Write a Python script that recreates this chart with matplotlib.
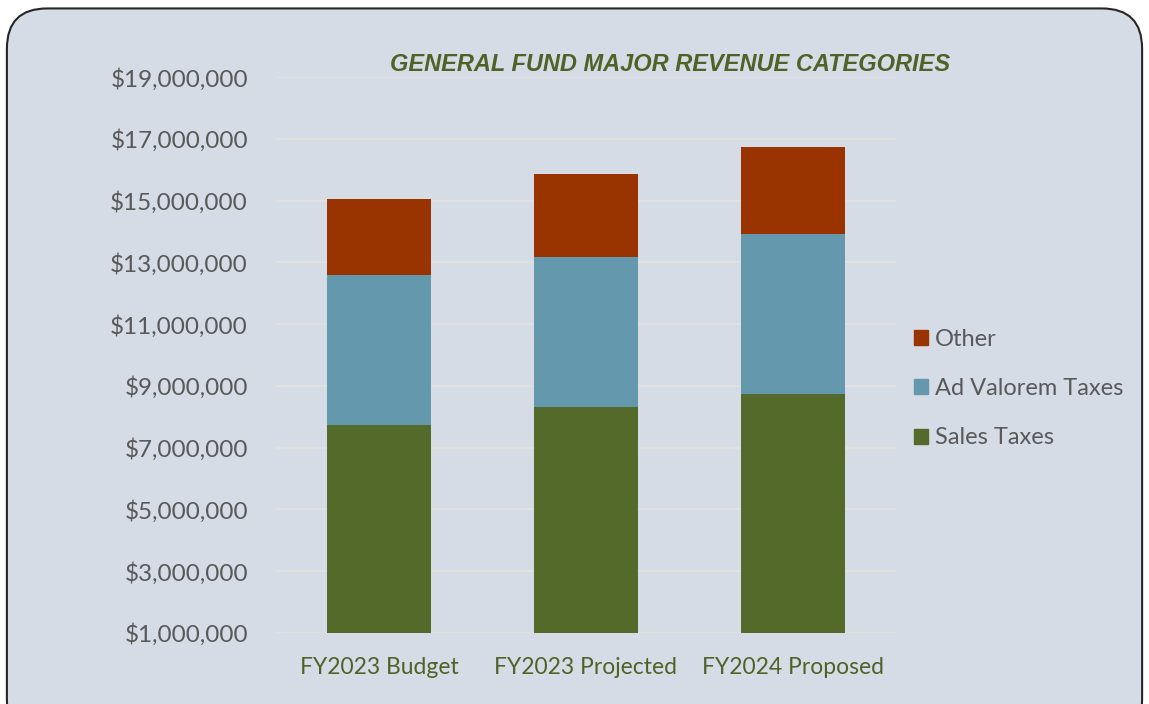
import matplotlib.pyplot as plt
from matplotlib.patches import FancyBboxPatch, Patch
from matplotlib.ticker import FuncFormatter

# data
categories = ['FY2023 Budget', 'FY2023 Projected', 'FY2024 Proposed']
sales_taxes = [7730000, 8320000, 8730000]
ad_valorem = [4850000, 4860000, 5200000]
other = [2480000, 2690000, 2790000]
yticks = list(range(1000000, 19000001, 2000000))

green = '#536A2B'
blue = '#6499AD'
red = '#993300'
bg = '#D6DCE5'
label_grey = '#595959'
title_green = '#4F6228'

fig = plt.figure(figsize=(11.49, 7.04), dpi=100)
fig.patch.set_facecolor('white')

# rounded chart frame
frame = FancyBboxPatch((0.006, -0.05), 0.988, 1.038,
                       boxstyle='round,pad=0,rounding_size=0.035',
                       transform=fig.transFigure, facecolor=bg,
                       edgecolor='#262626', linewidth=1.5, zorder=-1,
                       mutation_aspect=1149 / 704)
fig.patches.append(frame)

ax = fig.add_axes([0.240, 0.1009, 0.540, 0.7897])
ax.set_facecolor('none')
ax.set_zorder(2)

x = range(len(categories))
bottom2 = [s + a for s, a in zip(sales_taxes, ad_valorem)]
ax.bar(x, sales_taxes, width=0.5, color=green, zorder=3)
ax.bar(x, ad_valorem, width=0.5, bottom=sales_taxes, color=blue, zorder=3)
ax.bar(x, other, width=0.5, bottom=bottom2, color=red, zorder=3)

ax.set_xlim(-0.5, 2.5)
ax.set_ylim(1000000, 19000000)
ax.set_yticks(yticks)
ax.yaxis.set_major_formatter(FuncFormatter(lambda v, pos: '${:,.0f}'.format(v)))
ax.set_xticks(list(x))
ax.set_xticklabels(categories)

ax.grid(axis='y', color='#E4E1DE', linewidth=1.2, zorder=0)
for s in ax.spines.values():
    s.set_visible(False)
ax.tick_params(axis='both', length=0)
ax.tick_params(axis='y', pad=20, labelsize=17.5, labelcolor=label_grey)
ax.tick_params(axis='x', pad=17, labelsize=16.5, labelcolor=title_green)
for t in ax.get_yticklabels() + ax.get_xticklabels():
    t.set_fontfamily(['Lato', 'DejaVu Sans'])

fig.text(0.583, 0.908, 'GENERAL FUND MAJOR REVENUE CATEGORIES',
         ha='center', va='center', fontsize=17, fontweight='bold', style='italic',
         color=title_green, family=['Liberation Sans', 'DejaVu Sans'])

handles = [Patch(color=red), Patch(color=blue), Patch(color=green)]
leg = fig.legend(handles, ['Other', 'Ad Valorem Taxes', 'Sales Taxes'],
                 loc='center left', bbox_to_anchor=(0.777, 0.448), frameon=False,
                 handlelength=0.6, handleheight=0.6, handletextpad=0.3,
                 labelspacing=1.2, prop={'family': 'Lato', 'size': 17})
for t in leg.get_texts():
    t.set_color(label_grey)

fig.savefig('out.png', dpi=100, facecolor=fig.get_facecolor())
